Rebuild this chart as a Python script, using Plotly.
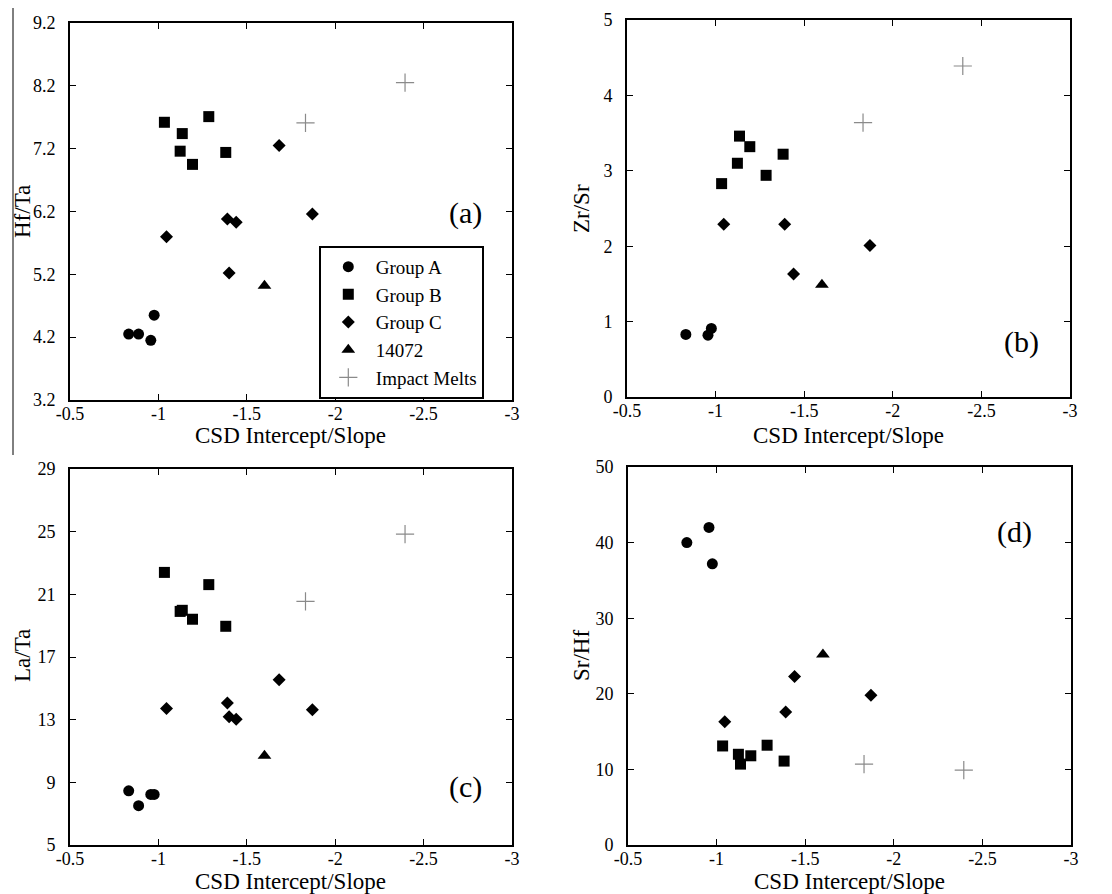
import plotly.graph_objects as go

# ---- data ----
x_ticks = [-0.5, -1, -1.5, -2, -2.5, -3]
x_tick_text = ["-0.5", "-1", "-1.5", "-2", "-2.5", "-3"]

groupA_x = [-0.832, -0.888, -0.957, -0.976]
groupB_x = [-1.034, -1.123, -1.135, -1.193, -1.285, -1.381]
groupC_x = [-1.046, -1.390, -1.400, -1.440, -1.683, -1.871]
s14072_x = [-1.600]
impact_x = [-1.832, -2.395]

# (a) Hf/Ta
hfta_A = [4.25, 4.25, 4.15, 4.55]
hfta_B = [7.62, 7.16, 7.44, 6.95, 7.71, 7.14]
hfta_C = [5.80, 6.08, 5.22, 6.03, 7.25, 6.16]
hfta_14072 = [5.02]
hfta_IM = [7.61, 8.25]

# (b) Zr/Sr
zrsr_A = [0.83, None, 0.82, 0.91]
zrsr_B = [2.83, 3.10, 3.46, 3.32, 2.94, 3.22]
zrsr_C = [2.29, 2.29, None, 1.63, None, 2.01]
zrsr_14072 = [1.49]
zrsr_IM = [3.64, 4.39]

# (c) La/Ta
lata_A = [8.46, 7.51, 8.23, 8.23]
lata_B = [22.40, 19.91, 19.98, 19.41, 21.62, 18.96]
lata_C = [13.71, 14.07, 13.18, 13.03, 15.55, 13.64]
lata_14072 = [10.69]
lata_IM = [20.55, 24.84]

# (d) Sr/Hf
srhf_A = [40.0, None, 42.0, 37.2]
srhf_B = [13.1, 12.0, 10.7, 11.8, 13.2, 11.1]
srhf_C = [16.3, 17.6, None, 22.3, None, 19.8]
srhf_14072 = [25.2]
srhf_IM = [10.7, 9.9]

yticks_a = [3.2, 4.2, 5.2, 6.2, 7.2, 8.2, 9.2]
yticks_b = [0, 1, 2, 3, 4, 5]
yticks_c = [5, 9, 13, 17, 21, 25, 29]
yticks_d = [0, 10, 20, 30, 40, 50]

series_names = ["Group A", "Group B", "Group C", "14072", "Impact Melts"]
x_title = "CSD Intercept/Slope"

OFF = 8
W, H = 1112 - OFF, 894 - OFF


def sx(px):
    return (px - OFF) / W


def sy(py):
    return 1 - (py - OFF) / H


panels = [
    dict(ax="", y_title="Hf/Ta", label="(a)", yticks=yticks_a, yr=[3.2, 9.2],
         ys=[hfta_A, hfta_B, hfta_C, hfta_14072, hfta_IM],
         px_x=(70, 512), px_y=(23, 400), lab=(465, 213), yt=(22, 212), xt=436),
    dict(ax="2", y_title="Zr/Sr", label="(b)", yticks=yticks_b, yr=[0, 5],
         ys=[zrsr_A, zrsr_B, zrsr_C, zrsr_14072, zrsr_IM],
         px_x=(627, 1070), px_y=(20, 397), lab=(1021, 342), yt=(581, 209), xt=436),
    dict(ax="3", y_title="La/Ta", label="(c)", yticks=yticks_c, yr=[5, 29],
         ys=[lata_A, lata_B, lata_C, lata_14072, lata_IM],
         px_x=(70, 512), px_y=(469, 845), lab=(465, 787), yt=(22, 656), xt=881),
    dict(ax="4", y_title="Sr/Hf", label="(d)", yticks=yticks_d, yr=[0, 50],
         ys=[srhf_A, srhf_B, srhf_C, srhf_14072, srhf_IM],
         px_x=(628, 1071), px_y=(467, 845), lab=(1014, 532), yt=(581, 656), xt=881),
]

xs = [groupA_x, groupB_x, groupC_x, s14072_x, impact_x]
marker_styles = [
    dict(symbol="circle", size=11, color="black"),
    dict(symbol="square", size=11, color="black"),
    dict(symbol="diamond", size=10, color="black"),
    dict(symbol="triangle-up", size=12, color="black"),
    dict(symbol="cross-thin", size=13, color="#8a8a8a", line=dict(color="#8a8a8a", width=1.2)),
]

FONT = "Liberation Serif, Times New Roman, serif"

fig = go.Figure()
layout = dict(
    width=W, height=H,
    margin=dict(l=0, r=0, t=0, b=0, autoexpand=False),
    paper_bgcolor="white", plot_bgcolor="white",
    font=dict(family=FONT, color="black"),
    showlegend=True,
    legend=dict(
        x=sx(319), y=sy(246), xanchor="left", yanchor="top",
        bgcolor="white", bordercolor="black", borderwidth=1.8,
        font=dict(family=FONT, size=19, color="black"),
        tracegroupgap=0, itemwidth=45,
        entrywidthmode="pixels", entrywidth=125,
    ),
    annotations=[], shapes=[],
)

for p in panels:
    a = p["ax"]
    for i, name in enumerate(series_names):
        fig.add_trace(go.Scatter(
            x=xs[i], y=p["ys"][i], mode="markers", name=name,
            marker=marker_styles[i],
            showlegend=(a == ""),
            xaxis="x" + a, yaxis="y" + a,
        ))
    common = dict(showline=True, linecolor="black", linewidth=1.8, mirror="ticks",
                  ticks="inside", ticklen=6, tickwidth=1.3, tickcolor="black",
                  showgrid=False, zeroline=False, automargin=False,
                  tickfont=dict(family=FONT, size=18, color="black"))
    layout["xaxis" + a] = dict(
        common, domain=[sx(p["px_x"][0]), sx(p["px_x"][1])],
        range=[-0.5, -3], autorange=False,
        tickvals=x_ticks, ticktext=x_tick_text, anchor="y" + a,
        ticklabelstandoff=-4,
    )
    layout["yaxis" + a] = dict(
        common, domain=[sy(p["px_y"][1]), sy(p["px_y"][0])],
        range=p["yr"], autorange=False,
        tickvals=p["yticks"], ticktext=[str(v) for v in p["yticks"]], anchor="x" + a,
        ticklabelstandoff=9,
    )
    layout["annotations"].append(dict(
        text=x_title, xref="paper", yref="paper",
        x=sx((p["px_x"][0] + p["px_x"][1]) / 2), y=sy(p["xt"]),
        xanchor="center", yanchor="middle", showarrow=False,
        font=dict(family=FONT, size=23, color="black"),
    ))
    layout["annotations"].append(dict(
        text=p["y_title"], xref="paper", yref="paper", textangle=-90,
        x=sx(p["yt"][0]), y=sy(p["yt"][1]),
        xanchor="center", yanchor="middle", showarrow=False,
        font=dict(family=FONT, size=23, color="black"),
    ))
    layout["annotations"].append(dict(
        text=p["label"], xref="paper", yref="paper",
        x=sx(p["lab"][0]), y=sy(p["lab"][1]), xanchor="center", yanchor="middle",
        showarrow=False, font=dict(family=FONT, size=30, color="black"),
    ))

layout["shapes"].append(dict(type="line", xref="paper", yref="paper",
                             x0=sx(13), x1=sx(13), y0=1, y1=sy(455),
                             line=dict(color="black", width=1)))

fig.update_layout(**layout)
fig.write_html("out.html")
